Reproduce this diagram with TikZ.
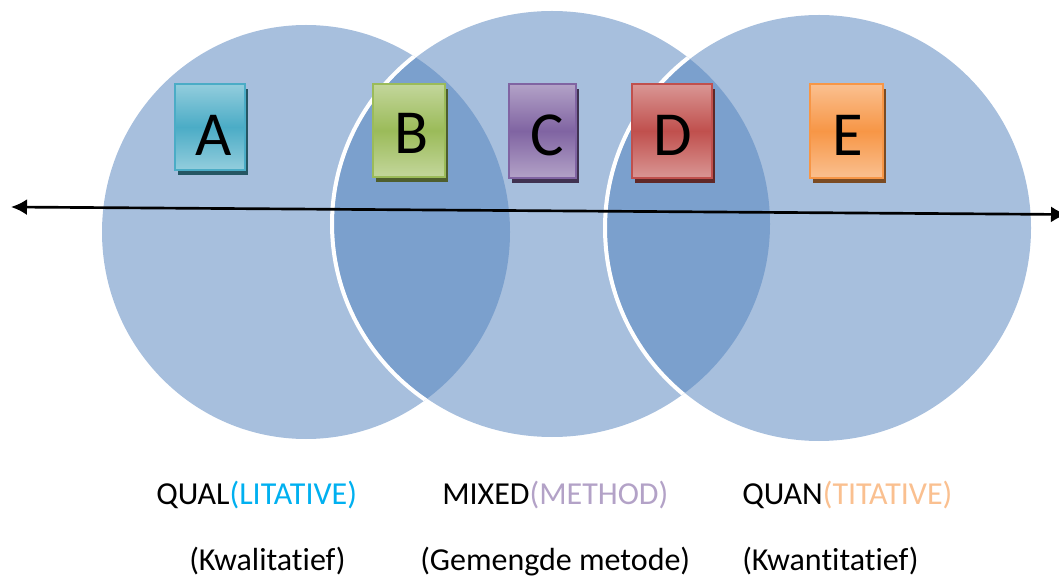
\documentclass[tikz,border=0pt]{standalone}
\usepackage{fontspec}
\setmainfont[Ligatures=NoCommon]{Carlito}
\usetikzlibrary{arrows.meta}

\definecolor{venn}{HTML}{A7BFDD}
\definecolor{venndark}{HTML}{7BA0CD}
\definecolor{tileA}{HTML}{4BACC6}
\definecolor{tileB}{HTML}{9BBB59}
\definecolor{tileC}{HTML}{8064A2}
\definecolor{tileD}{HTML}{C0504D}
\definecolor{tileE}{HTML}{F79646}
\definecolor{qualblue}{HTML}{00B0F0}

% shaded tile with drop shadow: x1 y1 x2 y2 colour
\newcommand{\drawtile}[5]{%
  \fill[#5!50!black] (#1+3,#2+5) rectangle (#3+3,#4+5);
  \shade[draw=#5, line width=1.5pt, top color=#5!60!white,
    bottom color=#5!60!white, middle color=#5] (#1,#2) rectangle (#3,#4);
}

\begin{document}
\begin{tikzpicture}[x=0.75pt, y=-0.75pt, >={Latex[length=12pt, width=12pt]},
    letter/.style={anchor=base, inner sep=0pt, font=\fontsize{47}{47}\selectfont},
    caption/.style={anchor=base west, inner sep=0pt, font=\fontsize{24}{24}\selectfont}]
    \useasboundingbox (0,0) rectangle (1059,580);

    % Q1, Q2, Q3: centres of the three circles
    \coordinate (Q1) at (306,232);
    \coordinate (Q2) at (552,224);
    \coordinate (Q3) at (819,228);

    \fill[venn] (Q1) ellipse [x radius=204, y radius=207];
    \fill[venn] (Q2) ellipse [x radius=218, y radius=213];
    \fill[venn] (Q3) ellipse [x radius=212, y radius=213];

    % overlaps
    \begin{scope}
        \clip (Q1) ellipse [x radius=204, y radius=207];
        \fill[venndark] (Q2) ellipse [x radius=218, y radius=213];
        \draw[white, line width=3pt] (Q2) ellipse [x radius=220, y radius=215];
    \end{scope}
    \begin{scope}
        \clip (Q2) ellipse [x radius=218, y radius=213];
        \fill[venndark] (Q3) ellipse [x radius=212, y radius=213];
        \draw[white, line width=3pt] (Q3) ellipse [x radius=214, y radius=215];
    \end{scope}

    % tiles
    \drawtile{175}{84}{245}{170}{tileA}
    \drawtile{373}{84}{445}{177}{tileB}
    \drawtile{509}{84}{576}{178}{tileC}
    \drawtile{632}{84}{712}{178}{tileD}
    \drawtile{810}{84}{883}{178}{tileE}

    \node[letter] (lA) at (214,156) {A};
    \node[letter] (lB) at (412,154) {B};
    \node[letter] (lC) at (547,156) {C};
    \node[letter] (lD) at (673,156) {D};
    \node[letter] (lE) at (847.5,156) {E};

    % axis
    \coordinate (west) at (11,207);
    \coordinate (east) at (1067,214.5);
    \draw[<->, line width=2pt] (west) -- (east);

    \node[caption] (qual) at (156,504) {QUAL\textcolor{qualblue}{(LITATIVE)}};
    \node[caption] (mixed) at (442,504) {MIXED\textcolor{tileC!60!white}{(METHOD)}};
    \node[caption] (quan) at (742,504) {QUAN\textcolor{tileE!60!white}{(TITATIVE)}};
    \node[caption] (kwal) at (189,570) {(Kwalitatief)};
    \node[caption] (gemengd) at (420,570) {(Gemengde metode)};
    \node[caption] (kwant) at (742,570) {(Kwantitatief)};
\end{tikzpicture}
\end{document}
